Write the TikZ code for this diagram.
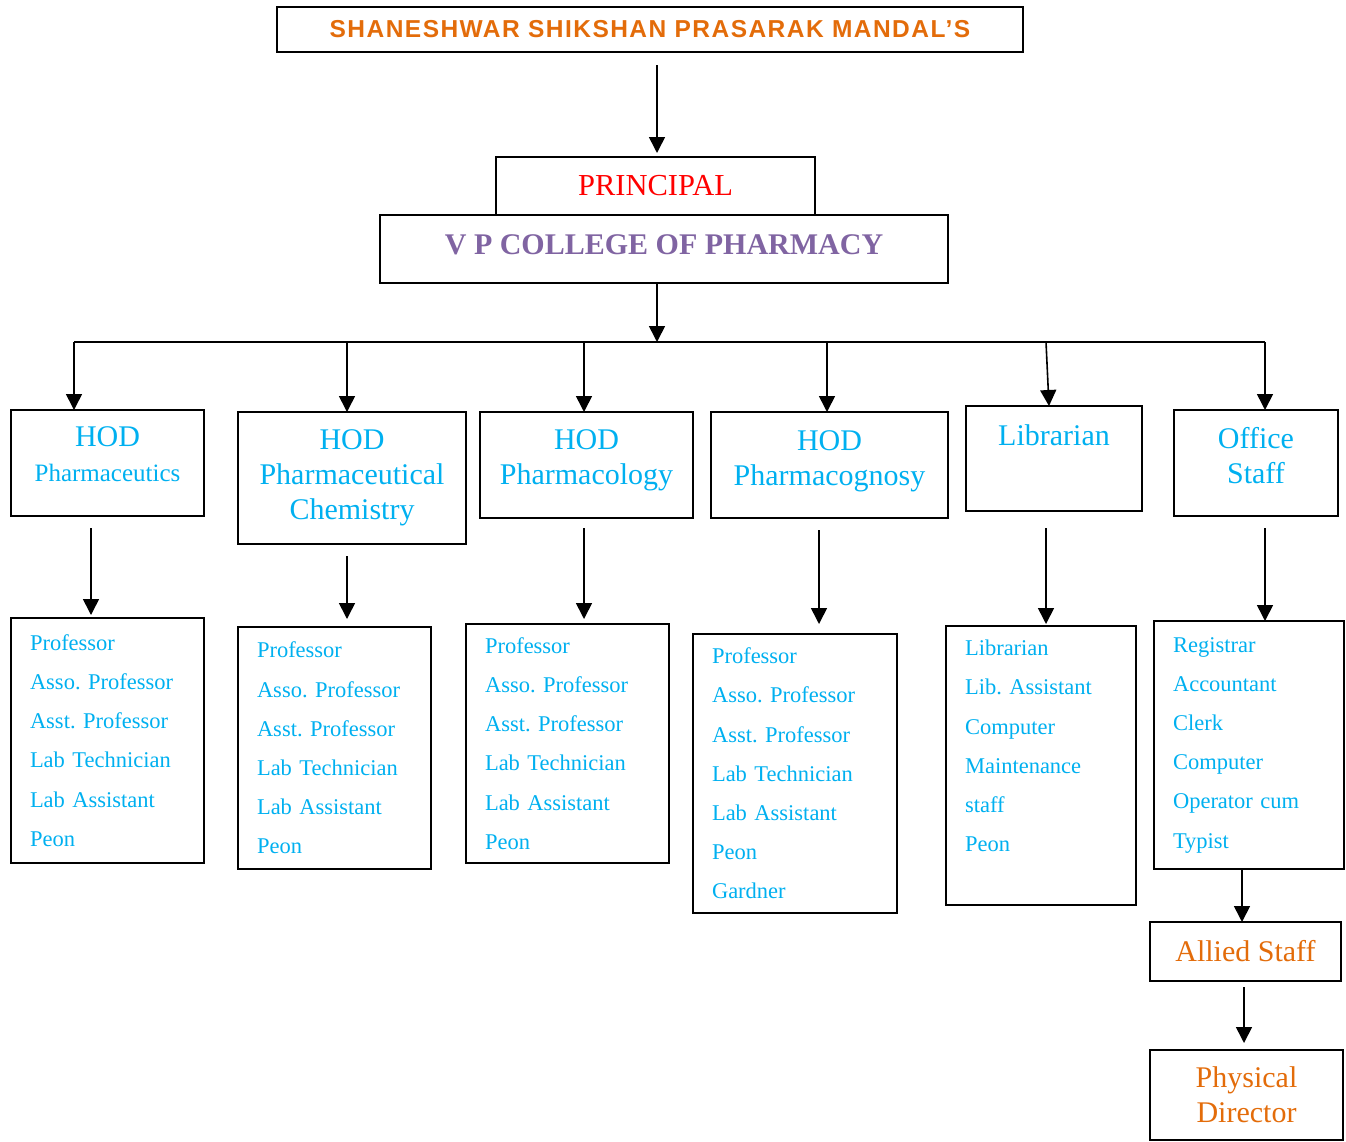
\documentclass[tikz,border=0pt]{standalone}
\usepackage{fontspec}
\setmainfont{Liberation Serif}
\newfontfamily\titlefont[LetterSpace=6]{Liberation Sans}
\usetikzlibrary{positioning,arrows.meta}
\definecolor{titleorange}{HTML}{E36C0A}
\definecolor{hodblue}{HTML}{00B0F0}
\definecolor{vppurple}{HTML}{8064A2}
\frenchspacing
\tikzset{
x=1pt, y=-1pt, % one unit per pixel of the layout, y going down
box/.style={draw, line width=1.8pt, inner sep=0pt, outer sep=0pt, align=center}, % every framed box
hod/.style={box, text=hodblue, font=\fontsize{30}{35}\selectfont},
staff/.style={box, text=hodblue, align=left, inner xsep=19pt, font=\fontsize{22.5}{39.2}\selectfont},
allied/.style={box, text=titleorange, font=\fontsize{30}{35}\selectfont},
link/.style={-{Triangle[width=16pt,length=16pt]}, line width=1.6pt}, % the arrows
}
\begin{document}
\begin{tikzpicture}
    \useasboundingbox (0,0) rectangle (1346,1141);

    % top of the chart
    \node[box, minimum width=746pt, minimum height=45pt, text=titleorange,
          font=\titlefont\bfseries\fontsize{24.5}{28}\selectfont] (title) at (650,29.5) {SHANESHWAR SHIKSHAN PRASARAK MANDAL’S};
    \node[box, below=105pt of title, xshift=5.5pt, minimum width=319pt, minimum height=58pt,
          text=red, font=\fontsize{30.5}{34}\selectfont] (principal) {PRINCIPAL};
    \node[box, below=0pt of principal, xshift=8.5pt, minimum width=568pt, minimum height=68pt, text depth=8pt,
          text=vppurple, font=\bfseries\fontsize{30}{34}\selectfont] (vp) {V P COLLEGE OF PHARMACY};

    % heads of department
    \node[hod, minimum width=193pt, minimum height=106pt, text depth=18pt] (hod1) at (107.5,463) {HOD\\{\fontsize{25}{35}\selectfont Pharmaceutics}};
    \node[hod, minimum width=228pt, minimum height=132pt] (hod2) at (352,478) {HOD\\Pharmaceutical\\Chemistry};
    \node[hod, minimum width=213pt, minimum height=106pt, text depth=15pt] (hod3) at (586.5,465) {HOD\\Pharmacology};
    \node[hod, minimum width=237pt, minimum height=106pt, text depth=14pt] (hod4) at (829.5,465) {HOD\\Pharmacognosy};
    \node[hod, minimum width=176pt, minimum height=105pt, text depth=12pt] (lib) at (1054,458.5) {Librarian\\\mbox{}};
    \node[hod, minimum width=164pt, minimum height=106pt, text depth=16pt] (office) at (1256,463) {Office\\Staff};

    % staff lists
    \node[staff, text width=155pt, minimum height=245pt] (s1) at (107.5,740.5) {Professor\\Asso. Professor\\Asst. Professor\\Lab Technician\\Lab Assistant\\Peon};
    \node[staff, text width=155pt, minimum height=242pt] (s2) at (334.5,748) {Professor\\Asso. Professor\\Asst. Professor\\Lab Technician\\Lab Assistant\\Peon};
    \node[staff, text width=165pt, minimum height=239pt] (s3) at (567.5,743.5) {Professor\\Asso. Professor\\Asst. Professor\\Lab Technician\\Lab Assistant\\Peon};
    \node[staff, text width=166pt, minimum height=279pt] (s4) at (795,773.5) {Professor\\Asso. Professor\\Asst. Professor\\Lab Technician\\Lab Assistant\\Peon\\Gardner};
    \node[staff, text width=152pt, minimum height=279pt] (s5) at (1041,765.5) {Librarian\\Lib. Assistant\\Computer\\Maintenance\\staff\\Peon\\\mbox{}};
    \node[staff, text width=152pt, minimum height=248pt] (s6) at (1249,745) {Registrar\\Accountant\\Clerk\\Computer\\Operator cum\\Typist};

    \node[allied, below=53pt of s6, xshift=-3.5pt, minimum width=191pt, minimum height=59pt] (allied) {Allied Staff};
    \node[allied, below=69pt of allied, xshift=1pt, minimum width=193pt, minimum height=90pt] (physical) {Physical\\Director};

    % free ends of the arrows and the bus line
    \coordinate (t0) at (657,65);
    \coordinate (bus) at (657,342);
    \coordinate (b1) at (74,342);
    \coordinate (b2) at (347,342);
    \coordinate (b3) at (584,342);
    \coordinate (b4) at (827,342);
    \coordinate (b5) at (1046,342);
    \coordinate (b6) at (1265,342);
    \coordinate (h1) at (91,528);
    \coordinate (h2) at (347,556);
    \coordinate (h3) at (584,528);
    \coordinate (h4) at (819,530);
    \coordinate (h5) at (1046,528);
    \coordinate (h6) at (1265,528);
    \coordinate (a2) at (1244,987);

    \draw[link, shorten >=4pt] (t0) -- (t0 |- principal.north);
    \draw[link] (vp.south -| bus) -- (bus);
    \draw[line width=1.6pt] (b1) -- (b6);
    \foreach \b/\n in {b1/hod1, b2/hod2, b3/hod3, b4/hod4, b6/office}
        \draw[link] (\b) -- (\b |- \n.north);
    \draw[link] (b5) -- ([xshift=-5pt]lib.north);

    \foreach \h/\s/\g in {h1/s1/3pt, h2/s2/8pt, h3/s3/5pt, h4/s4/10pt, h5/s5/2pt, h6/s6/0pt}
        \draw[link, shorten >=\g] (\h) -- (\h |- \s.north);
    \draw[link] ([xshift=-7pt]s6.south) -- ([xshift=-3.5pt]allied.north);
    \draw[link, shorten >=7pt] (a2) -- (a2 |- physical.north);
\end{tikzpicture}
\end{document}
